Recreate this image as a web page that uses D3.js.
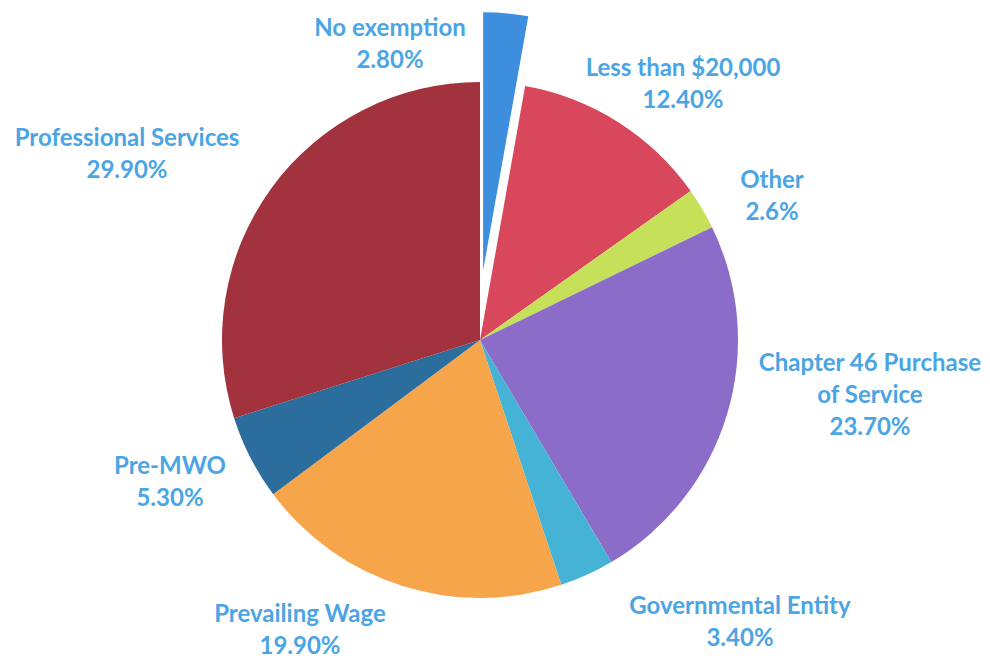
<!DOCTYPE html>
<html>
<head>
<meta charset="utf-8">
<script src="https://cdn.jsdelivr.net/npm/d3@7"></script>
<style>
  body { margin: 0; background: #fff; }
  svg { display: block; }
  .label { font-family: Lato, "Open Sans", sans-serif; font-weight: 700; fill: #4ba5e4; font-size: 24px; }
</style>
</head>
<body>
<div id="chart"></div>
<script>
const categories = ["No exemption", "Less than $20,000", "Other", "Chapter 46 Purchase of Service",
    "Governmental Entity", "Prevailing Wage", "Pre-MWO", "Professional Services"];
const values = [2.8, 12.4, 2.6, 23.7, 3.4, 19.9, 5.3, 29.9];
const valueLabels = ["2.80%", "12.40%", "2.6%", "23.70%", "3.40%", "19.90%", "5.30%", "29.90%"];
const labelLines = [["No exemption"], ["Less than $20,000"], ["Other"], ["Chapter 46 Purchase", "of Service"],
    ["Governmental Entity"], ["Prevailing Wage"], ["Pre-MWO"], ["Professional Services"]];
const colors = ["#3d8fde", "#d8475b", "#c6e05a", "#8b6cc8", "#44b3d6", "#f7a54b", "#2b6d9d", "#a3323f"];

// label anchor (center of first line), layout only
const labelPos = [[390, 36], [683, 76], [772, 188], [870, 371], [740, 614], [300, 622], [170, 474], [127, 146]];

const width = 990, height = 660;
const cx = 480, cy = 340, radius = 258, explode = 70;

const svg = d3.select("#chart").append("svg")
    .attr("width", width)
    .attr("height", height);

const pie = d3.pie().sort(null).value(d => d);
const arcs = pie(values);
const arc = d3.arc().innerRadius(0).outerRadius(radius);

const g = svg.append("g").attr("transform", `translate(${cx},${cy})`);

g.selectAll("path")
    .data(arcs)
    .join("path")
    .attr("d", arc)
    .attr("fill", (d, i) => colors[i])
    .attr("transform", (d, i) => {
        if (i !== 0) return null;
        const a = (d.startAngle + d.endAngle) / 2;
        return `translate(${explode * Math.sin(a) - 3},${-explode * Math.cos(a)})`;
    });

const lineH = 32;
categories.forEach((c, i) => {
    const lines = labelLines[i].concat([valueLabels[i]]);
    const t = svg.append("text")
        .attr("class", "label")
        .attr("text-anchor", "middle")
        .attr("x", labelPos[i][0])
        .attr("y", labelPos[i][1]);
    lines.forEach((l, j) => {
        t.append("tspan")
            .attr("x", labelPos[i][0])
            .attr("dy", j === 0 ? 0 : lineH)
            .text(l);
    });
});
</script>
</body>
</html>
